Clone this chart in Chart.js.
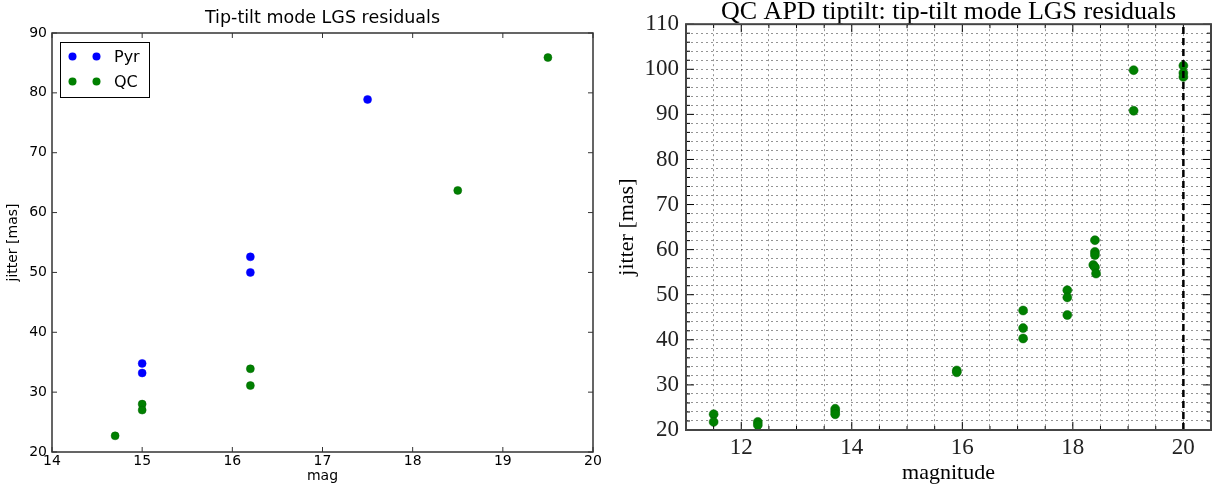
<!DOCTYPE html>
<html><head><meta charset="utf-8">
<script src="https://cdn.jsdelivr.net/npm/chart.js@4/dist/chart.umd.min.js"></script>
<style>
html,body{margin:0;padding:0;background:#fff;}
#wrap{position:relative;width:1216px;height:486px;overflow:hidden;}
.box{position:absolute;top:0;width:608px;height:486px;}
</style></head><body>
<div id="wrap">
<div class="box" style="left:0"><canvas id="c1" width="608" height="486"></canvas></div>
<div class="box" style="left:608px"><canvas id="c2" width="608" height="486"></canvas></div>
</div>
<script>
// Left chart: Tip-tilt mode LGS residuals
const pyrMag    = [15, 15, 16.2, 16.2, 17.5];
const pyrJitter = [34.8, 33.2, 52.6, 50.0, 78.9];
const qcMag     = [14.7, 15, 15, 16.2, 16.2, 18.5, 19.5];
const qcJitter  = [22.7, 28.0, 27.0, 33.9, 31.1, 63.7, 85.9];

// Right chart: QC APD tiptilt
const apdMag    = [11.5, 11.5, 12.3, 12.3, 13.7, 13.7, 13.7, 15.9, 15.9, 17.1, 17.1, 17.1, 17.9, 17.9, 17.9, 18.4, 18.4, 18.4, 18.37, 18.4, 18.42, 19.1, 19.1, 20, 20, 20];
const apdJitter = [23.5, 21.8, 21.8, 21.1, 24.7, 24.1, 23.5, 33.2, 32.8, 46.5, 42.6, 40.3, 51.0, 49.4, 45.5, 62.1, 59.5, 58.8, 56.6, 56.1, 54.7, 99.8, 90.8, 100.8, 99.2, 98.3];
const limitMag  = 20;
const limitRange = [20, 110];

const pts = (xs, ys) => xs.map((v, i) => ({x: v, y: ys[i]}));

const frameTicks = {
  id: 'frameTicks',
  afterDatasetsDraw(chart, args, o) {
    const {ctx, chartArea: a, scales: {x, y}} = chart;
    ctx.save();
    ctx.strokeStyle = o.tickColor; ctx.lineWidth = o.tickWidth;
    ctx.beginPath();
    x.ticks.forEach(t => {
      const p = x.getPixelForValue(t.value);
      const L = (t.label !== '' && t.label != null) ? o.major : o.minor;
      ctx.moveTo(p, a.bottom); ctx.lineTo(p, a.bottom - L);
      ctx.moveTo(p, a.top); ctx.lineTo(p, a.top + L);
    });
    y.ticks.forEach(t => {
      const p = y.getPixelForValue(t.value);
      const L = (t.label !== '' && t.label != null) ? o.major : o.minor;
      ctx.moveTo(a.left, p); ctx.lineTo(a.left + L, p);
      ctx.moveTo(a.right, p); ctx.lineTo(a.right - L, p);
    });
    ctx.stroke();
    ctx.strokeStyle = o.frameColor; ctx.lineWidth = o.frameWidth;
    ctx.strokeRect(a.left, a.top, a.right - a.left, a.bottom - a.top);
    ctx.restore();
  }
};

const mplLegend = {
  id: 'mplLegend',
  afterDraw(chart, args, o) {
    if (!o || !o.show) return;
    const {ctx, chartArea: a} = chart;
    const bx = a.left + 8, by = a.top + 8.5, bw = 89, bh = 55;
    ctx.save();
    ctx.fillStyle = '#fff'; ctx.fillRect(bx, by, bw, bh);
    ctx.strokeStyle = '#000'; ctx.lineWidth = 1;
    ctx.strokeRect(Math.round(bx) + 0.5, Math.round(by) + 0.5, bw, bh);
    chart.data.datasets.forEach((ds, i) => {
      const cy = by + 15 + i * 25;
      [12.5, 36.5].forEach(dx => {
        ctx.beginPath(); ctx.arc(bx + dx, cy, 4, 0, 2 * Math.PI);
        ctx.fillStyle = ds.backgroundColor; ctx.fill();
      });
      ctx.fillStyle = '#000'; ctx.font = '16px "DejaVu Sans"';
      ctx.textBaseline = 'middle'; ctx.textAlign = 'left';
      ctx.fillText(ds.label, bx + 54, cy + 1);
    });
    ctx.restore();
  }
};

const sans = 'DejaVu Sans';
new Chart(document.getElementById('c1'), {
  type: 'scatter',
  data: { datasets: [
    {label: 'Pyr', data: pts(pyrMag, pyrJitter), backgroundColor: '#0000ff', borderColor: '#0000ff', pointRadius: 4, pointHoverRadius: 4, borderWidth: 0.5},
    {label: 'QC', data: pts(qcMag, qcJitter), backgroundColor: '#008000', borderColor: '#006400', pointRadius: 4, pointHoverRadius: 4, borderWidth: 0.5}
  ]},
  plugins: [frameTicks, mplLegend],
  options: {
    responsive: false, animation: false,
    layout: {padding: {left: 0, right: 15, top: 0, bottom: 0}},
    plugins: {
      legend: {display: false}, tooltip: {enabled: false},
      title: {display: true, fullSize: false, text: 'Tip-tilt mode LGS residuals', color: '#000',
        font: {family: sans, size: 17.5, weight: 'normal', lineHeight: 1.2}, padding: {top: 8, bottom: 4}},
      frameTicks: {tickColor: '#333', tickWidth: 1, major: 5, minor: 5, frameColor: '#333', frameWidth: 1.5},
      mplLegend: {show: true}
    },
    scales: {
      x: {type: 'linear', min: 14, max: 20,
        ticks: {stepSize: 1, color: '#000', font: {family: sans, size: 14}, padding: 1, autoSkip: false, maxRotation: 0},
        grid: {display: false, drawTicks: false}, border: {display: false},
        title: {display: true, text: 'mag', color: '#000', font: {family: sans, size: 14}, padding: {top: 0, bottom: 1}},
        afterFit(s) { s.height = 34; }
      },
      y: {type: 'linear', min: 20, max: 90,
        ticks: {stepSize: 10, color: '#000', font: {family: sans, size: 14}, padding: 5, autoSkip: false},
        grid: {display: false, drawTicks: false}, border: {display: false},
        title: {display: true, text: 'jitter [mas]', color: '#000', font: {family: sans, size: 14}, padding: {top: 5, bottom: 0}},
        afterFit(s) { s.width = 52; }
      }
    }
  }
});

const serif = 'Liberation Serif';
new Chart(document.getElementById('c2'), {
  type: 'scatter',
  data: { datasets: [
    {type: 'line', label: 'limit', data: [{x: limitMag, y: limitRange[0]}, {x: limitMag, y: limitRange[1]}],
      borderColor: '#000', borderWidth: 2.5, borderDash: [7, 4], pointRadius: 0, showLine: true, fill: false, order: 0},
    {label: 'QC APD', data: pts(apdMag, apdJitter), backgroundColor: '#008000', borderColor: '#006400', pointRadius: 4.5, pointHoverRadius: 4.5, borderWidth: 0.5, order: 1}
  ]},
  plugins: [frameTicks],
  options: {
    responsive: false, animation: false,
    layout: {padding: {left: 0, right: 3, top: 0, bottom: 0}},
    plugins: {
      legend: {display: false}, tooltip: {enabled: false},
      title: {display: true, fullSize: false, text: 'QC APD tiptilt: tip-tilt mode LGS residuals', color: '#000',
        font: {family: serif, size: 26, weight: 'normal', lineHeight: 0.93}, padding: {top: 0, bottom: 0}},
      frameTicks: {tickColor: '#000', tickWidth: 1, major: 8, minor: 4, frameColor: '#444', frameWidth: 2}
    },
    scales: {
      x: {type: 'linear', min: 11, max: 20.5,
        ticks: {stepSize: 0.5, color: '#222', font: {family: serif, size: 23}, padding: 4, autoSkip: false, maxRotation: 0,
          callback: v => (Math.abs(v % 2) < 1e-9 ? String(v) : '')},
        grid: {display: true, drawTicks: false, color: 'rgba(0,0,0,0.42)', lineWidth: 1},
        border: {display: false, dash: [2, 3]},
        title: {display: true, text: 'magnitude', color: '#000', font: {family: serif, size: 22}, padding: {top: 0, bottom: 0}},
        afterFit(s) { s.height = 56; }
      },
      y: {type: 'linear', min: 20, max: 110,
        ticks: {stepSize: 2, color: '#222', font: {family: serif, size: 23}, padding: 7, autoSkip: false,
          callback: v => (Math.abs(v % 10) < 1e-9 ? String(v) : '')},
        grid: {display: true, drawTicks: false, color: 'rgba(0,0,0,0.42)', lineWidth: 1},
        border: {display: false, dash: [2, 3]},
        title: {display: true, text: 'jitter [mas]', color: '#000', font: {family: serif, size: 22}, padding: {top: 6, bottom: 0}},
        afterFit(s) { s.width = 78; }
      }
    }
  }
});
</script>
</body></html>
